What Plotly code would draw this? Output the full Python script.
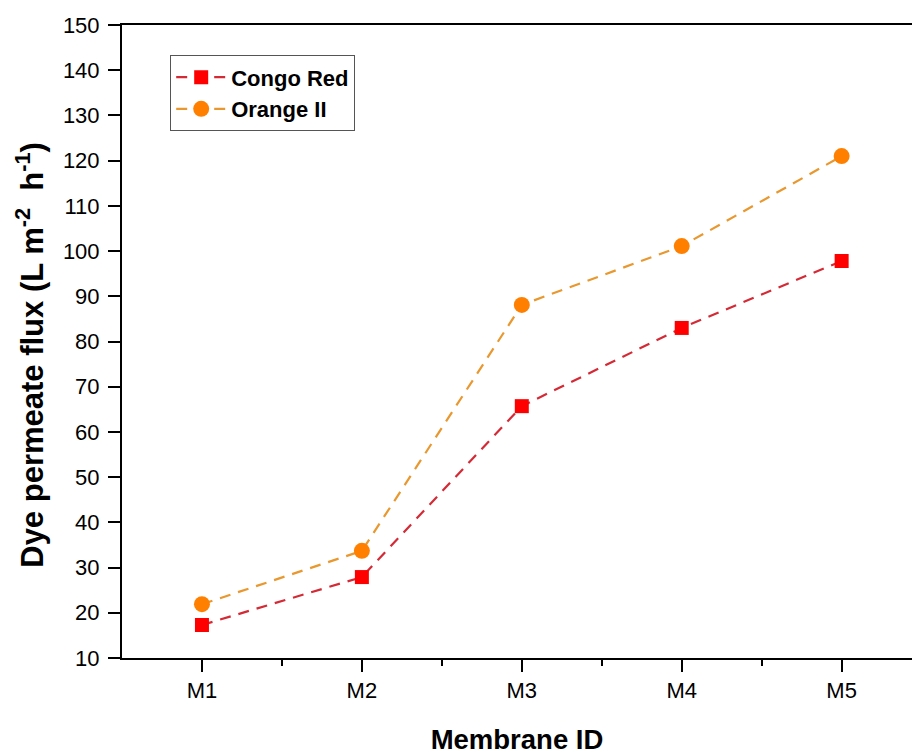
import plotly.graph_objects as go

membranes = ["M1", "M2", "M3", "M4", "M5"]
positions = [1, 2, 3, 4, 5]
congo_red = [17.3, 27.9, 65.7, 83.0, 97.8]
orange_ii = [21.9, 33.7, 88.1, 101.1, 121.0]
y_ticks = list(range(10, 151, 10))

fig = go.Figure()
fig.add_trace(go.Scatter(
    x=positions, y=congo_red, name="<b>Congo Red</b>", mode="lines+markers",
    line=dict(color="#D42A35", width=2.2, dash="11px,8px"),
    marker=dict(symbol="square", size=14, color="#FF0000"),
))
fig.add_trace(go.Scatter(
    x=positions, y=orange_ii, name="<b>Orange II</b>", mode="lines+markers",
    line=dict(color="#E8982F", width=2.2, dash="11px,8px"),
    marker=dict(symbol="circle", size=16, color="#FF8000"),
))

fig.update_layout(
    width=912, height=755,
    margin=dict(l=122, r=0, t=25, b=97),
    paper_bgcolor="white", plot_bgcolor="white",
    font=dict(family="Liberation Sans, Arial, sans-serif", color="black"),
    legend=dict(
        x=0.061, y=0.952, xanchor="left", yanchor="top",
        bordercolor="#555", borderwidth=1, bgcolor="white",
        font=dict(size=22, family="Liberation Sans, Arial, sans-serif"),
        tracegroupgap=0, itemwidth=50,
    ),
    showlegend=True,
    annotations=[dict(
        text="<b>Dye permeate flux (L m<sup>-2</sup>&nbsp; h<sup>-1</sup>)</b>",
        xref="paper", yref="paper", x=-0.1165, y=0.479,
        xanchor="center", yanchor="middle", textangle=-90, showarrow=False,
        font=dict(size=31),
    )],
)

fig.update_xaxes(
    range=[0.5, 5.44], tickmode="array", tickvals=positions, ticktext=membranes,
    showline=True, linecolor="black", linewidth=2, mirror=True,
    ticks="outside", ticklen=12, tickwidth=2, tickcolor="black",
    minor=dict(tickvals=[1.5, 2.5, 3.5, 4.5], ticks="outside", ticklen=6, tickwidth=2, tickcolor="black"),
    showgrid=False, zeroline=False,
    tickfont=dict(size=22),
    title=dict(text="<b>Membrane ID</b>", font=dict(size=27.5), standoff=31),
)
fig.update_yaxes(
    range=[10, 150], tickmode="array", tickvals=y_ticks,
    showline=True, linecolor="black", linewidth=2, mirror=False,
    ticks="outside", ticklen=12, tickwidth=2, tickcolor="black",
    ticklabelstandoff=4,
    showgrid=False, zeroline=False,
    tickfont=dict(size=22),
)

fig.write_html("out.html", config={"displayModeBar": False},
               post_script="document.body.style.margin='0';document.body.style.overflow='hidden';")
